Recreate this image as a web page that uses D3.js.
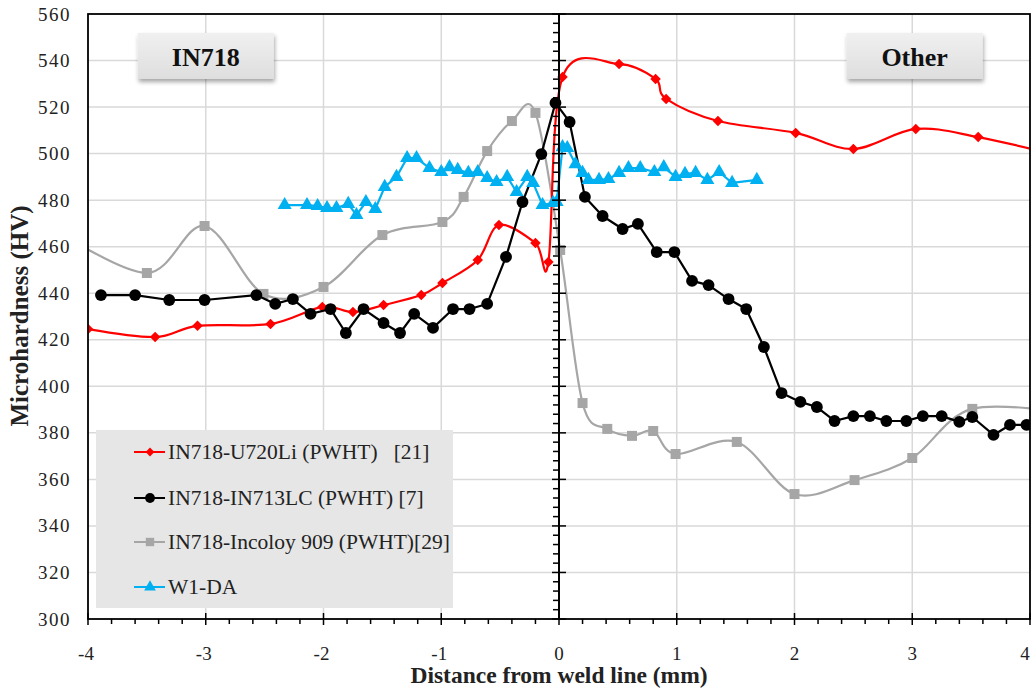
<!DOCTYPE html>
<html><head><meta charset="utf-8">
<script src="https://cdn.jsdelivr.net/npm/d3@7"></script>
<style>body{margin:0;background:#fff}svg{display:block}</style>
</head><body>
<svg id="c" width="1032" height="689"></svg>
<script>
// ---- data ----
const seriesNames = ["IN718-U720Li (PWHT)   [21]", "IN718-IN713LC (PWHT) [7]", "IN718-Incoloy 909 (PWHT)[29]", "W1-DA"];
const xTicks = [-4,-3,-2,-1,0,1,2,3,4];
const yTicks = [300,320,340,360,380,400,420,440,460,480,500,520,540,560];
const regionLabels = ["IN718", "Other"];

const redX = [-4.0,-3.43,-3.07,-2.45,-2.01,-1.75,-1.49,-1.17,-0.99,-0.69,-0.51,-0.2,-0.09,0.03,0.51,0.82,0.91,1.35,2.01,2.5,3.03,3.56,4.3];
const redY = [424.6,421.2,426,426.8,434.1,431.9,434.9,439.2,444.4,454.3,469.3,461.6,453.4,532.9,538.5,532.1,523.5,514,508.9,502,510.6,507.1,498.5];

const blackX = [-3.89,-3.6,-3.31,-3.01,-2.57,-2.41,-2.26,-2.11,-1.94,-1.81,-1.66,-1.49,-1.35,-1.23,-1.07,-0.9,-0.76,-0.61,-0.45,-0.31,-0.15,-0.03,0.09,0.22,0.37,0.54,0.67,0.83,0.98,1.13,1.27,1.44,1.59,1.74,1.89,2.05,2.19,2.34,2.5,2.64,2.78,2.95,3.09,3.25,3.4,3.51,3.69,3.83,3.97];
const blackY = [439.2,439.2,437.1,437.1,439.2,435.4,437.5,431.1,433.2,422.9,433.2,427.2,422.9,431.1,425.1,433.2,433.2,435.4,455.6,479.2,499.8,521.8,513.6,481.4,473.2,467.6,469.8,457.7,457.7,445.3,443.5,437.5,433.2,416.9,397.1,393.3,391.1,385.1,387.2,387.2,385.1,385.1,387.2,387.2,384.7,386.8,379.1,383.4,383.4];

const grayX = [-4.3,-3.5,-3.01,-2.51,-2.0,-1.5,-0.99,-0.81,-0.61,-0.4,-0.2,0.01,0.2,0.41,0.62,0.8,0.99,1.51,2.0,2.51,3.0,3.51,4.4];
const grayY = [468,448.7,468.9,439.7,442.7,465.0,470.6,481.4,501.1,514.0,517.5,458.6,392.8,381.7,378.7,380.8,370.9,376.1,353.7,359.7,369.2,390.3,388];

const blueX = [-2.33,-2.14,-2.05,-1.97,-1.89,-1.79,-1.72,-1.64,-1.56,-1.48,-1.38,-1.29,-1.21,-1.1,-1.0,-0.93,-0.86,-0.77,-0.69,-0.61,-0.53,-0.44,-0.36,-0.27,-0.22,-0.14,-0.05,-0.02,0.03,0.07,0.14,0.2,0.25,0.34,0.42,0.51,0.59,0.69,0.81,0.89,0.99,1.07,1.16,1.26,1.36,1.47,1.68];
const blueY = [477.9,477.9,477.5,476.6,476.6,478.4,473.6,479.2,476.2,485.7,490.0,498.1,498.1,493.8,492.1,494.2,493.0,491.7,492.1,489.5,487.8,490.0,483.5,490.0,487.4,477.9,478.8,479.2,502.8,502.4,495.5,491.7,488.7,488.7,489.1,491.7,493.8,493.8,492.1,494.2,490.0,491.3,491.7,488.7,492.1,487.4,488.7];

const colors = ["#ff0000", "#000000", "#a6a6a6", "#00b0f0"];
const shapes = [d3.symbolDiamond2, d3.symbolCircle, d3.symbolSquare, d3.symbolTriangle];
const symSizes = [70, 110, 100, 85];

// ---- layout ----
const svg = d3.select("#c");
const L = 88, R = 1030, T = 14, B = 619;
const x = d3.scaleLinear().domain([-4,4]).range([L,R]);
const y = d3.scaleLinear().domain([300,560]).range([B,T]);
const font = "'Liberation Serif','Times New Roman',serif";

const defs = svg.append("defs");
defs.append("clipPath").attr("id","plot").append("rect").attr("x",L).attr("y",T).attr("width",R-L).attr("height",B-T);
const g1 = defs.append("linearGradient").attr("id","boxg").attr("x1",0).attr("y1",0).attr("x2",0).attr("y2",1);
g1.append("stop").attr("offset","0%").attr("stop-color","#f0f0f0");
g1.append("stop").attr("offset","100%").attr("stop-color","#dedede");
const f = defs.append("filter").attr("id","sh").attr("x","-10%").attr("y","-10%").attr("width","130%").attr("height","140%");
f.append("feDropShadow").attr("dx",1).attr("dy",3).attr("stdDeviation",2).attr("flood-color","#000").attr("flood-opacity",0.35);

// grid
const grid = svg.append("g");
grid.selectAll("line.v").data(xTicks.filter(d=>d!==0 && d!==-4 && d!==4)).join("line")
  .attr("x1",d=>x(d)).attr("x2",d=>x(d)).attr("y1",T).attr("y2",B)
  .attr("stroke","#d9d9d9").attr("stroke-width",1.5);
grid.selectAll("line.h").data(yTicks.filter(d=>d!==300 && d!==560)).join("line")
  .attr("x1",L).attr("x2",R).attr("y1",d=>y(d)).attr("y2",d=>y(d))
  .attr("stroke","#d9d9d9").attr("stroke-width",1.5);

// region label boxes
const boxes = [{t:regionLabels[0], cx:-3.0}, {t:regionLabels[1], cx:3.02}];
boxes.forEach(b=>{
  const bx = x(b.cx) - 68;
  svg.append("rect").attr("x",bx).attr("y",33).attr("width",136).attr("height",46)
    .attr("fill","url(#boxg)").attr("filter","url(#sh)");
  svg.append("text").attr("x",bx+68).attr("y",66).attr("text-anchor","middle")
    .attr("font-family",font).attr("font-weight","bold").attr("font-size",26).attr("fill","#111").text(b.t);
});

// legend box
const lg = svg.append("g");
lg.append("rect").attr("x",96).attr("y",430).attr("width",357).attr("height",178).attr("fill","#e6e6e6");
const legY = [452, 498, 542, 587];
seriesNames.forEach((n,i)=>{
  lg.append("line").attr("x1",134).attr("x2",165).attr("y1",legY[i]).attr("y2",legY[i])
    .attr("stroke",colors[i]).attr("stroke-width",2);
  lg.append("path").attr("transform",`translate(150,${legY[i]})`)
    .attr("d",d3.symbol().type(shapes[i]).size(symSizes[i]*0.7)()).attr("fill",colors[i]);
  lg.append("text").attr("x",168).attr("y",legY[i]+7).attr("font-family",font).attr("font-size",21.5)
    .attr("fill","#222").attr("xml:space","preserve").style("white-space","pre").text(n);
});

// series
const all = [[redX,redY,true],[blackX,blackY,false],[grayX,grayY,true],[blueX,blueY,false]];
const plotG = svg.append("g").attr("clip-path","url(#plot)");
const order = [2,0,1,3];
order.forEach(i=>{
  const [xs,ys,smooth] = all[i];
  const pts = xs.map((v,k)=>[v,ys[k]]);
  const line = d3.line().x(d=>x(d[0])).y(d=>y(d[1]))
    .curve(smooth ? d3.curveCatmullRom.alpha(0) : d3.curveLinear);
  plotG.append("path").attr("d",line(pts)).attr("fill","none").attr("stroke",colors[i])
    .attr("stroke-width",2.2).attr("stroke-linejoin","round");
  plotG.selectAll(null).data(pts).join("path")
    .attr("transform",d=>`translate(${x(d[0])},${y(d[1])})`)
    .attr("d",d3.symbol().type(shapes[i]).size(symSizes[i])()).attr("fill",colors[i]);
});

// frame
svg.append("rect").attr("x",L).attr("y",T).attr("width",R-L).attr("height",B-T)
  .attr("fill","none").attr("stroke","#000").attr("stroke-width",1.8);

// center vertical axis at x=0
const x0 = x(0);
svg.append("line").attr("x1",x0).attr("x2",x0).attr("y1",T).attr("y2",B).attr("stroke","#000").attr("stroke-width",2);
const yMinor = d3.range(300,561,4).filter(v=>v%20!==0);
svg.selectAll(null).data(yMinor).join("line")
  .attr("x1",x0-6).attr("x2",x0).attr("y1",d=>y(d)).attr("y2",d=>y(d)).attr("stroke","#000").attr("stroke-width",1.5);
svg.selectAll(null).data(yTicks).join("line")
  .attr("x1",x0-7).attr("x2",x0+7).attr("y1",d=>y(d)).attr("y2",d=>y(d)).attr("stroke","#000").attr("stroke-width",1.5);

// bottom axis ticks
const xMinor = d3.range(-40,41,2).map(v=>v/10).filter(v=>Math.abs(v-Math.round(v))>1e-6);
svg.selectAll(null).data(xMinor).join("line")
  .attr("x1",d=>x(d)).attr("x2",d=>x(d)).attr("y1",B).attr("y2",B+5).attr("stroke","#000").attr("stroke-width",1.5);
svg.selectAll(null).data(xTicks).join("line")
  .attr("x1",d=>x(d)).attr("x2",d=>x(d)).attr("y1",B-6).attr("y2",B+6).attr("stroke","#000").attr("stroke-width",1.5);

// tick labels
svg.selectAll(null).data(yTicks).join("text")
  .attr("x",71).attr("y",d=>y(d)+6.5).attr("text-anchor","end")
  .attr("font-family",font).attr("font-size",19).attr("letter-spacing",1.5).attr("fill","#222").text(d=>d);
svg.selectAll(null).data(xTicks).join("text")
  .attr("x",d=>Math.min(x(d)+(d<0?-2:0), 1025)).attr("y",660).attr("text-anchor","middle")
  .attr("font-family",font).attr("font-size",19).attr("fill","#222").text(d=>d);

// axis titles
svg.append("text").attr("x",559).attr("y",683).attr("text-anchor","middle")
  .attr("font-family",font).attr("font-weight","bold").attr("font-size",23.5).attr("fill","#222")
  .text("Distance from weld line (mm)");
svg.append("text").attr("transform","translate(28,316) rotate(-90)").attr("text-anchor","middle")
  .attr("font-family",font).attr("font-weight","bold").attr("font-size",25).attr("fill","#222")
  .text("Microhardness (HV)");
</script>
</body></html>
